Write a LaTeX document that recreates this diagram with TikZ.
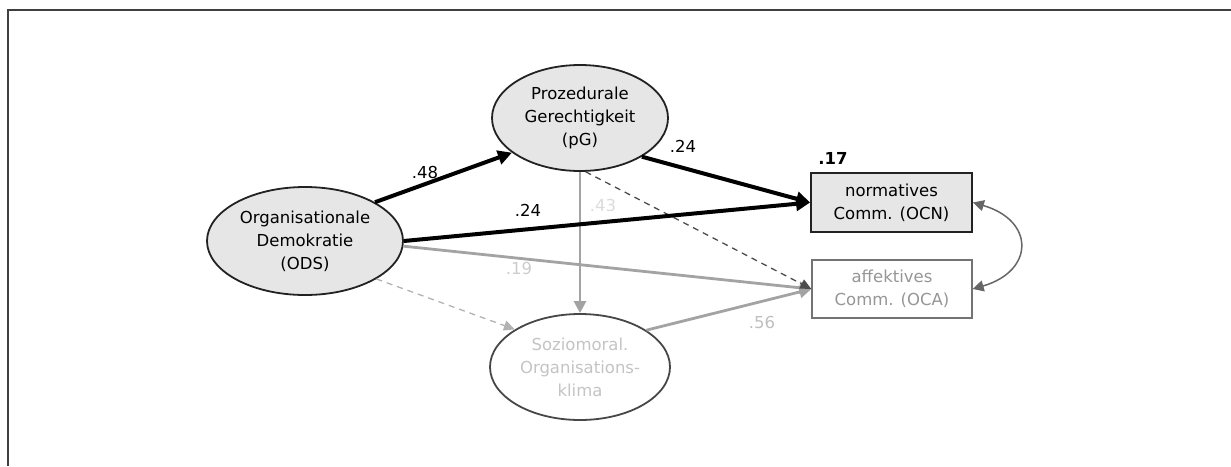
\documentclass[tikz,border=0pt]{standalone}
\usepackage{fontspec}
\setmainfont{DejaVu Sans}
\usetikzlibrary{shapes.geometric,arrows.meta}
\definecolor{fillgray}{HTML}{E6E6E6}
\definecolor{midgray}{HTML}{A3A3A3}
\definecolor{fadetext}{HTML}{C4C4C4}
\definecolor{ocatext}{HTML}{969696}
\definecolor{darkline}{HTML}{222222}
\tikzset{
  txt/.style={font=\fontsize{16.5}{23}\selectfont, align=center, inner sep=0pt},
  latent/.style={txt, ellipse, draw=darkline, line width=1.8pt},
  manifest/.style={txt, rectangle, draw=darkline, line width=1.8pt},
  strongpath/.style={line width=4pt, draw=black, -{Triangle[length=14pt,width=14pt]}},
  greypath/.style={line width=2.8pt, draw=midgray, -{Triangle[length=12pt,width=12pt]}},
  dashpath/.style={line width=1.3pt, dashed, dash pattern=on 6pt off 5pt, -{Triangle[length=11pt,width=10pt]}},
  coefl/.style={font=\fontsize{16.5}{19}\selectfont, inner sep=0pt},
}
\begin{document}
\begin{tikzpicture}[x=1pt,y=-1pt]
\useasboundingbox (0,0) rectangle (1231,466);
% frame
\draw[line width=2pt, color=black!75] (8,466) -- (8,10) -- (1231,10);

% nodes
\node[latent, fill=fillgray, minimum width=196pt, minimum height=108pt] (ODS) at (305,241) {Organisationale\\Demokratie\\(ODS)};
\node[latent, fill=fillgray, minimum width=176pt, minimum height=106pt] (pG) at (580,118) {Prozedurale\\Gerechtigkeit\\(pG)};
\node[latent, fill=white, draw=black!72, text=fadetext, minimum width=180pt, minimum height=106pt] (SMK) at (580,367) {Soziomoral.\\Organisations-\\klima};
\node[manifest, fill=fillgray, minimum width=161pt, minimum height=59pt] (OCN) at (891.5,202.5) {normatives\\Comm. (OCN)};
\node[manifest, fill=white, draw=black!55, line width=1.3pt, text=ocatext, minimum width=160pt, minimum height=58pt] (OCA) at (892,289) {affektives\\Comm. (OCA)};

% connectors
\draw[greypath] (ODS.-3) -- (OCA.west);
\draw[greypath] (SMK.29) -- (OCA.west);
\draw[greypath] (pG.south) -- (SMK.north);
\draw[dashpath, draw=black!70] (pG.-84) -- (OCA.west);
\draw[dashpath, draw=black!30] (ODS.-28) -- (SMK.150);
\draw[strongpath] (ODS.29) -- (pG.207);
\draw[strongpath] (pG.-32) -- (OCN.west);
\draw[strongpath] (ODS.east) -- (OCN.west);
\draw[line width=1.5pt, draw=black!60, {Triangle[length=11pt,width=11pt]}-{Triangle[length=11pt,width=11pt]}]
  (OCN.east) .. controls +(62,18) and +(62,-18) .. (OCA.east);

% coefficients
\node[coefl] (c48) at (425,172) {.48};
\node[coefl] (c24a) at (683,146) {.24};
\node[coefl] (c24b) at (528,210) {.24};
\node[coefl, text=black!14] (c43) at (603,205) {.43};
\node[coefl, text=black!20] (c19) at (519,268) {.19};
\node[coefl, text=black!25] (c56) at (762,322) {.56};
\node[coefl, font=\fontsize{16.5}{19}\selectfont\bfseries] (r17) at (833,158) {.17};
\end{tikzpicture}
\end{document}
